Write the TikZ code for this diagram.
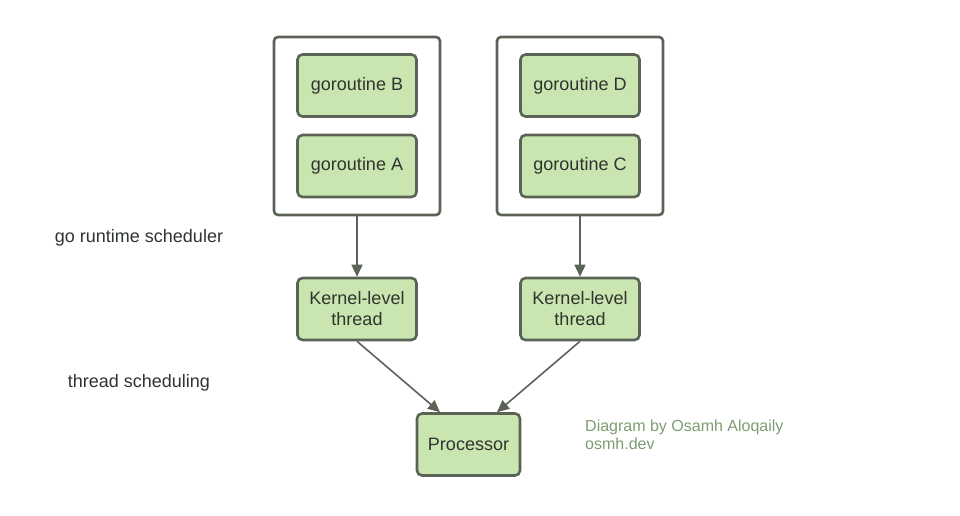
\documentclass[tikz,border=0pt]{standalone}
\usepackage{fontspec}
\setmainfont{Liberation Sans}
\usetikzlibrary{arrows.meta, positioning}
\definecolor{boxfill}{HTML}{C9E5B0}
\definecolor{boxline}{HTML}{5B6357}
\definecolor{txt}{HTML}{2E3430}
\definecolor{credit}{HTML}{7E9C70}
\tikzstyle{group} = [rectangle, rounded corners = 4, minimum width = 166,
  minimum height = 178, draw = boxline, line width = 2.6, fill = white]
\tikzstyle{task} = [
  rectangle, rounded corners = 5,
  minimum width = 119, minimum height = 62,
  draw = boxline, line width = 2.6, fill = boxfill,
  text = txt, align = center, font = \fontsize{18}{21}\selectfont
]
\tikzstyle{label} = [text = txt, font = \fontsize{18}{21}\selectfont]
\tikzstyle{link} = [draw = boxline, line width = 1.6,
  -{Triangle[length = 12, width = 11]}]

\begin{document}
\begin{tikzpicture}[x = 1pt, y = -1pt, node distance = 0]
      \useasboundingbox (0, 0) rectangle (960, 516);
      % groups
      \node [group] (group-left) at (357, 126) {};
      \node [group] (group-right) at (580, 126) {};
      % goroutines
      \node [task] (go-b) at (357, 85.5) {goroutine B};
      \node [task] (go-a) at (357, 166) {goroutine A};
      \node [task] (go-d) at (580, 85.5) {goroutine D};
      \node [task] (go-c) at (580, 166) {goroutine C};
      % threads
      \node [task] (thread-left) at (357, 309) {Kernel-level\\thread};
      \node [task] (thread-right) at (580, 309) {Kernel-level\\thread};
      % processor
      \node [task, minimum width = 103] (cpu) at (468.5, 444.5) {Processor};
      % side labels
      \node [label] (runtime) at (139, 238) {go runtime scheduler};
      \node [label] (threading) at (139, 383) {thread scheduling};
      \node [text = credit, font = \fontsize{16}{18.5}\selectfont,
        align = left, anchor = north west, inner xsep = 0] (credit) at (585, 416)
        {Diagram by Osamh Aloqaily\\osmh.dev};

      \draw [link] (group-left) -- (thread-left);
      \draw [link] (group-right) -- (thread-right);
      \draw [link] (thread-left.south) -- (cpu.north -| 440, 0);
      \draw [link] (thread-right.south) -- (cpu.north -| 497, 0);
    \end{tikzpicture}
\end{document}
